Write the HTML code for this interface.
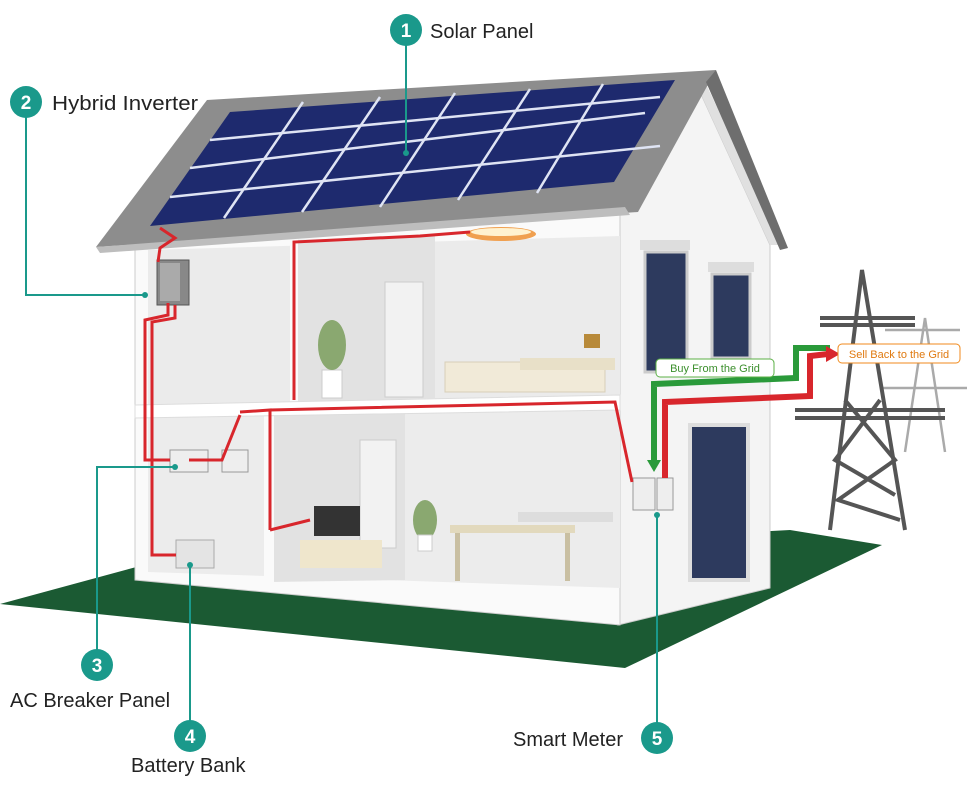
<!DOCTYPE html>
<html><head><meta charset="utf-8"><style>
html,body{margin:0;padding:0;background:#fff}
svg{display:block}
text{font-family:"Liberation Sans",sans-serif}
</style></head><body>
<svg width="967" height="785" viewBox="0 0 967 785" xmlns="http://www.w3.org/2000/svg">
<polygon points="0,604 140,566 790,530 882,545 625,668" fill="#1b5a33"/>
<polygon points="618,212 700,92 770,245 770,588 618,625" fill="#f4f4f4" stroke="#ccc"/>
<polygon points="700,92 706,84 782,245 770,245" fill="#e0e0e0"/>
<rect x="640" y="240" width="50" height="10" fill="#ddd"/>
<rect x="645" y="252" width="42" height="120" fill="#2d3a5e" stroke="#ccc" stroke-width="3"/>
<rect x="708" y="262" width="46" height="10" fill="#ddd"/>
<rect x="712" y="274" width="38" height="84" fill="#2d3a5e" stroke="#ccc" stroke-width="3"/>
<rect x="690" y="425" width="58" height="155" fill="#2d3a5e" stroke="#ddd" stroke-width="4"/>
<polygon points="135,248 620,212 620,625 135,580" fill="#fafafa" stroke="#ccc"/>
<polygon points="148,250 620,236 620,398 148,410" fill="#ebebeb"/>
<polygon points="148,418 620,405 620,588 148,572" fill="#ececec"/>
<polygon points="290,240 435,236 435,398 290,402" fill="#e2e2e2"/>
<polygon points="270,415 405,412 405,580 270,582" fill="#e2e2e2"/>
<rect x="264" y="414" width="10" height="168" fill="#fafafa"/>
<rect x="290" y="238" width="8" height="165" fill="#fafafa"/>
<rect x="385" y="282" width="38" height="115" fill="#f2f2f2" stroke="#ccc"/>
<rect x="360" y="440" width="36" height="108" fill="#f2f2f2" stroke="#ccc"/>
<polygon points="135,405 620,395 620,410 135,418" fill="#fff" stroke="#ddd"/>
<rect x="445" y="362" width="160" height="30" fill="#f1ead8" stroke="#d8cfb8"/>
<rect x="520" y="358" width="95" height="12" fill="#e8e0c8"/>
<rect x="584" y="334" width="16" height="14" fill="#b88a3a"/>
<ellipse cx="501" cy="234" rx="35" ry="7" fill="#f0a050"/>
<ellipse cx="501" cy="232" rx="30" ry="4" fill="#fff2d0"/>
<rect x="322" y="370" width="20" height="28" fill="#fff" stroke="#ccc"/>
<ellipse cx="332" cy="345" rx="14" ry="25" fill="#8aa870"/>
<rect x="314" y="506" width="46" height="30" fill="#333"/>
<rect x="300" y="540" width="82" height="28" fill="#efe6cc"/>
<rect x="450" y="525" width="125" height="8" fill="#e2d9bd"/>
<rect x="455" y="533" width="5" height="48" fill="#c9bfa2"/>
<rect x="565" y="533" width="5" height="48" fill="#c9bfa2"/>
<rect x="518" y="512" width="95" height="10" fill="#ddd"/>
<ellipse cx="425" cy="520" rx="12" ry="20" fill="#8aa870"/>
<rect x="418" y="535" width="14" height="16" fill="#fff" stroke="#ccc"/>
<polygon points="96,247 207,100 716,70 638,212 96,247" fill="#8d8d8d"/>
<polygon points="96,247 625,207 630,215 100,253" fill="#bdbdbd"/>
<polygon points="716,70 706,82 780,250 788,248" fill="#6e6e6e"/>
<polygon points="150,226 230,112 675,80 614,182" fill="#1e2a6e"/>
<g stroke="#dfe4f4" stroke-width="2.5" fill="none">
<line x1="170" y1="197" x2="660" y2="146"/>
<line x1="190" y1="168" x2="645" y2="113"/>
<line x1="210" y1="140" x2="660" y2="97"/>
<line x1="224" y1="218" x2="303" y2="102"/>
<line x1="302" y1="212" x2="380" y2="97"/>
<line x1="380" y1="207" x2="455" y2="93"/>
<line x1="458" y1="200" x2="530" y2="89"/>
<line x1="537" y1="193" x2="603" y2="84"/>
</g>
<rect x="157" y="260" width="32" height="45" fill="#888" stroke="#555"/>
<rect x="160" y="263" width="20" height="38" fill="#aaa"/>
<rect x="170" y="450" width="38" height="22" fill="#eee" stroke="#999"/>
<rect x="222" y="450" width="26" height="22" fill="#eee" stroke="#999"/>
<rect x="176" y="540" width="38" height="28" fill="#e4e4e4" stroke="#aaa"/>
<rect x="633" y="478" width="22" height="32" fill="#eee" stroke="#999"/>
<rect x="657" y="478" width="16" height="32" fill="#eee" stroke="#999"/>
<g stroke="#d8262c" stroke-width="3" fill="none">
<polyline points="160,228 175,238 160,248 158,262"/>
<polyline points="168,303 168,315 145,320 145,460 170,460"/>
<polyline points="175,305 175,318 152,322 152,555 176,555"/>
<polyline points="189,460 222,460 230,440 240,415"/>
<polyline points="294,400 294,242 420,236 470,232"/>
<polyline points="270,530 310,520"/>
<polyline points="240,412 270,410 270,530"/>
<polyline points="270,410 615,402 632,482"/>
</g>
<polyline points="830,348 796,348 796,378 654,384 654,462" stroke="#2a9a3a" stroke-width="6" fill="none"/>
<polygon points="647,460 661,460 654,472" fill="#2a9a3a"/>
<polyline points="665,478 665,402 810,396 810,356 828,354" stroke="#d8262c" stroke-width="6" fill="none"/>
<polygon points="826,346 840,354 826,362" fill="#d8262c"/>
<g stroke="#aaa" stroke-width="2.5" fill="none">
<polyline points="905,452 925,318 945,452"/><line x1="885" y1="330" x2="960" y2="330"/><line x1="880" y1="388" x2="967" y2="388"/>
</g>
<g stroke="#555" stroke-width="4" fill="none">
<polyline points="830,530 862,270 905,530"/>
<line x1="820" y1="318" x2="915" y2="318"/><line x1="820" y1="325" x2="915" y2="325"/>
<line x1="795" y1="410" x2="945" y2="410"/><line x1="795" y1="418" x2="945" y2="418"/>
<polyline points="845,400 895,460 838,500 900,520"/><polyline points="880,400 835,460 895,495"/>
</g>
<rect x="656" y="359" width="118" height="18" rx="4" fill="#fff" stroke="#5bb046"/>
<text x="715" y="372" font-size="11" fill="#3b8f2c" text-anchor="middle">Buy From the Grid</text>
<rect x="838" y="344" width="122" height="19" rx="4" fill="#fff" stroke="#f08a1c"/>
<text x="899" y="358" font-size="11" fill="#e07a10" text-anchor="middle">Sell Back to the Grid</text>
<g stroke="#1a998b" stroke-width="2" fill="none">
<line x1="406" y1="40" x2="406" y2="153"/>
<polyline points="26,112 26,295 145,295"/>
<polyline points="97,655 97,467 175,467"/>
<line x1="190" y1="725" x2="190" y2="565"/>
<line x1="657" y1="727" x2="657" y2="515"/>
</g>
<g fill="#1a998b"><circle cx="406" cy="153" r="3"/><circle cx="145" cy="295" r="3"/><circle cx="175" cy="467" r="3"/><circle cx="190" cy="565" r="3"/><circle cx="657" cy="515" r="3"/></g>
<g fill="#1a998b">
<circle cx="406" cy="30" r="16"/><circle cx="26" cy="102" r="16"/><circle cx="97" cy="665" r="16"/><circle cx="190" cy="736" r="16"/><circle cx="657" cy="738" r="16"/>
</g>
<g fill="#fff" font-size="19" font-weight="bold" text-anchor="middle">
<text x="406" y="37">1</text><text x="26" y="109">2</text><text x="97" y="672">3</text><text x="190" y="743">4</text><text x="657" y="745">5</text>
</g>
<g fill="#222" font-size="20">
<text x="430" y="38">Solar Panel</text>
<text x="52" y="110" textLength="146" lengthAdjust="spacingAndGlyphs">Hybrid Inverter</text>
<text x="10" y="707">AC Breaker Panel</text>
<text x="131" y="772">Battery Bank</text>
<text x="513" y="746">Smart Meter</text>
</g>
</svg>
</body></html>
